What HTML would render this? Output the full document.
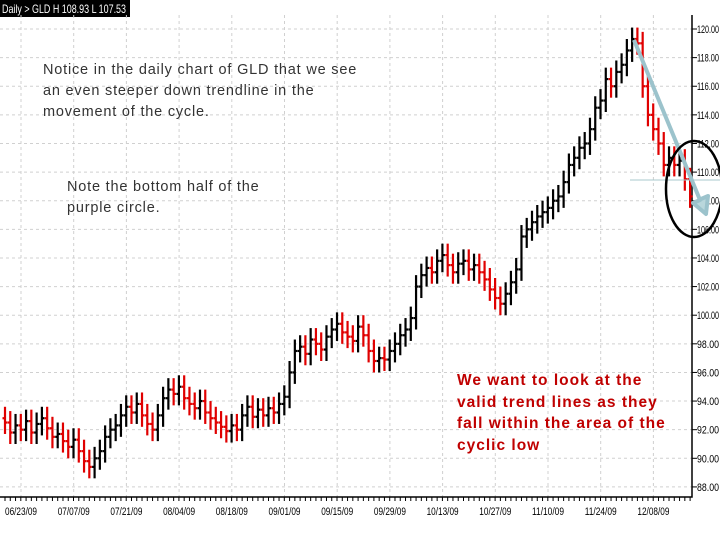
<!DOCTYPE html>
<html><head><meta charset="utf-8"><style>
body{margin:0;background:#fff;width:720px;height:540px;overflow:hidden;font-family:"Liberation Sans",sans-serif}
svg{position:absolute;left:0;top:0}
.note{position:absolute;color:#333;font-size:14.5px;line-height:21px;white-space:nowrap;letter-spacing:0.8px}
.red{position:absolute;color:#c00000;font-weight:bold;font-size:15.5px;line-height:21.5px;white-space:nowrap;letter-spacing:1px}
</style></head><body>
<svg id="chart" width="720" height="540"></svg>
<div class="note" style="left:43px;top:60px">Notice in the daily chart of GLD that we see<br>an even steeper down trendline in the<br>movement of the cycle.</div>
<div class="note" style="left:67px;top:177px">Note the bottom half of the<br>purple circle.</div>
<div class="red" style="left:457px;top:370px">We want to look at the<br>valid trend lines as they<br>fall within the area of the<br>cyclic low</div>
<script>
const closes=[92.5,91.8,92.3,92.0,92.6,91.8,92.4,92.8,92.1,91.5,91.7,91.2,90.8,91.3,90.5,89.8,89.4,90.0,90.5,91.5,92.0,92.3,93.0,93.6,93.2,93.8,93.0,92.4,92.0,93.0,94.2,94.8,94.5,95.0,94.2,93.8,93.5,94.0,93.2,92.8,92.5,92.2,91.9,92.3,92.0,93.0,93.6,92.9,93.4,93.0,93.5,93.2,93.8,94.3,96.0,97.5,97.8,97.3,98.3,98.0,97.6,98.5,99.0,99.4,98.8,98.5,98.2,99.2,98.6,97.5,96.8,97.0,96.9,97.5,98.0,98.6,99.0,99.8,102.0,102.8,103.3,103.0,103.8,104.2,103.5,103.0,103.6,103.8,103.2,103.5,103.0,102.5,101.8,101.2,100.8,101.5,102.3,103.2,105.5,106.0,106.5,106.9,107.2,107.5,108.0,108.3,109.3,110.5,111.0,111.7,112.0,113.0,114.5,115.0,116.5,116.0,117.0,117.5,118.5,119.3,119.0,116.0,114.0,113.0,112.0,110.5,111.0,110.5,110.8,109.5,108.3];
const yTicks=[120,118,116,114,112,110,108,106,104,102,100,98,96,94,92,90,88];
const dateLabels=["06/23/09","07/07/09","07/21/09","08/04/09","08/18/09","09/01/09","09/15/09","09/29/09","10/13/09","10/27/09","11/10/09","11/24/09","12/08/09"];
const NS="http://www.w3.org/2000/svg";
const svg=document.getElementById('chart');
const yS=v=>29+(120-v)*14.31;
const xS=i=>5+i*5.27;
const dX=k=>21+k*52.7;
function mk(t,a,p){const e=document.createElementNS(NS,t);for(const k in a)e.setAttribute(k,a[k]);(p||svg).appendChild(e);return e;}
const hb=mk('rect',{x:0,y:0,width:130,height:17,fill:'#000'});


const ht=mk('text',{x:2,y:13,fill:'#fff','font-size':12,textLength:124,lengthAdjust:'spacingAndGlyphs'});ht.textContent='Daily > GLD H 108.93 L 107.53';


yTicks.forEach(v=>{
 const l=mk('line',{x1:0,x2:692,y1:yS(v),y2:yS(v),stroke:'#d0d0d0','stroke-dasharray':'3,3'});
 
 
 mk('line',{x1:692,x2:697,y1:yS(v),y2:yS(v),stroke:'#000'});
 const t=mk('text',{x:697,y:yS(v)+4,'font-size':11,fill:'#000','textLength':22,'lengthAdjust':'spacingAndGlyphs'});t.textContent=v.toFixed(2);
 
 
});
dateLabels.forEach((d,k)=>{
 const l=mk('line',{x1:dX(k),x2:dX(k),y1:15,y2:497,stroke:'#d0d0d0','stroke-dasharray':'3,3'});
 
 
 const t=mk('text',{x:dX(k),y:515,'font-size':11,'text-anchor':'middle',fill:'#000','textLength':32,'lengthAdjust':'spacingAndGlyphs'});t.textContent=d;
 
 
});
for(let i=0;i<closes.length;i++){mk('line',{x1:xS(i),x2:xS(i),y1:497,y2:501,stroke:'#000'});}
const ax=mk('path',{d:'M692 15 V497 H0',stroke:'#000','stroke-width':1.5,fill:'none'});


closes.forEach((c,i)=>{
 const o=i?closes[i-1]:c+0.3;
 const col=c<o?'#e00000':'#000';
 const g=mk('g',{stroke:col,'stroke-width':2.2});
 
 
 const hi=Math.max(o,c)+0.8, lo=Math.min(o,c)-0.8;
 mk('line',{x1:xS(i),x2:xS(i),y1:yS(hi),y2:yS(lo)},g);
 mk('line',{x1:xS(i)-2.5,x2:xS(i),y1:yS(o),y2:yS(o)},g);
 mk('line',{x1:xS(i),x2:xS(i)+2.5,y1:yS(c),y2:yS(c)},g);
});
const hl=mk('line',{x1:630,x2:720,y1:180,y2:180,stroke:'#a8c8cc','stroke-width':1});


const tl=mk('path',{d:'M634 40 L700 200 L693 203 L706 214 L708 196 L701 199',stroke:'#9cc3cc','stroke-width':4,fill:'#b9d7dc','stroke-linejoin':'round'});


const el=mk('ellipse',{cx:694,cy:189,rx:28,ry:48,fill:'none',stroke:'#000','stroke-width':2.5});


</script>
</body></html>
